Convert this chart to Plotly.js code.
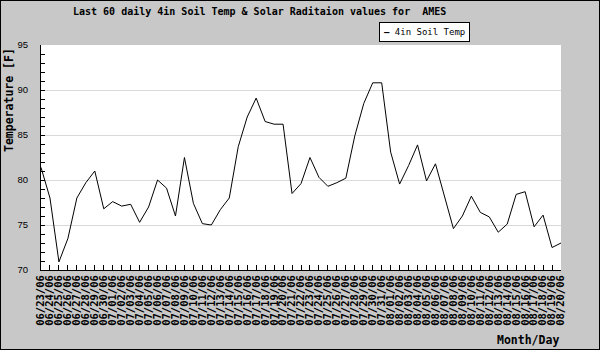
<!DOCTYPE html>
<html>
<head>
<meta charset="utf-8">
<script src="https://cdn.plot.ly/plotly-3.0.1.min.js"></script>
<style>
  html, body { margin: 0; padding: 0; background: #c8c8c8; }
  #chart { width: 598px; height: 348px; border: 1px solid #000; }
</style>
</head>
<body>
<div id="chart"></div>
<script>
const dates = [
  "06/23/06","06/24/06","06/25/06","06/26/06","06/27/06","06/28/06","06/29/06","06/30/06",
  "07/01/06","07/02/06","07/03/06","07/04/06","07/05/06","07/06/06","07/07/06","07/08/06",
  "07/09/06","07/10/06","07/11/06","07/12/06","07/13/06","07/14/06","07/15/06","07/16/06",
  "07/17/06","07/18/06","07/19/06","07/20/06","07/21/06","07/22/06","07/23/06","07/24/06",
  "07/25/06","07/26/06","07/27/06","07/28/06","07/29/06","07/30/06","07/31/06",
  "08/01/06","08/02/06","08/03/06","08/04/06","08/05/06","08/06/06","08/07/06","08/08/06",
  "08/09/06","08/10/06","08/11/06","08/12/06","08/13/06","08/14/06","08/15/06","08/16/06",
  "08/17/06","08/18/06","08/19/06","08/20/06"
];
const soilTemp = [
  81.4, 78.0, 70.9, 73.5, 78.0, 79.7, 81.0, 76.8, 77.6, 77.1,
  77.3, 75.3, 77.0, 80.0, 79.1, 76.0, 82.5, 77.4, 75.15, 75.0,
  76.7, 78.0, 83.7, 87.0, 89.1, 86.5, 86.2, 86.2, 78.5, 79.6,
  82.5, 80.3, 79.3, 79.7, 80.2, 84.9, 88.5, 90.8, 90.8, 83.1,
  79.55, 81.6, 83.9, 79.9, 81.8, 78.3, 74.6, 76.0, 78.2, 76.4,
  75.9, 74.2, 75.1, 78.4, 78.7, 74.8, 76.1, 72.5, 73.0
];
const yTicks = [70, 75, 80, 85, 90, 95];
const seriesName = "4in Soil Temp";
const titleText = "Last 60 daily 4in Soil Temp &amp; Solar Raditaion values for  AMES";

const mono = "DejaVu Sans Mono, monospace";

const trace = {
  x: dates,
  y: soilTemp,
  type: "scatter",
  mode: "lines",
  name: seriesName,
  line: { color: "#000000", width: 1 },
  hoverinfo: "x+y"
};

const layout = {
  width: 598,
  height: 348,
  margin: { l: 40, r: 38, t: 44, b: 79 },
  paper_bgcolor: "#c8c8c8",
  plot_bgcolor: "#ffffff",
  showlegend: false,
  title: {
    text: titleText,
    font: { family: mono, size: 10, weight: "bold", color: "#000" },
    x: 72 / 598, xanchor: "left", xref: "container",
    y: 1 - 10 / 348, yanchor: "middle", yref: "container"
  },
  xaxis: {
    type: "category",
    range: [0, dates.length - 1],
    tickmode: "array",
    tickvals: dates,
    ticktext: dates,
    tickangle: -90,
    ticks: "inside",
    ticklen: 5,
    tickcolor: "#000",
    tickfont: { family: mono, size: 10.5, weight: "bold", color: "#000" },
    showline: true,
    linecolor: "#000",
    linewidth: 1,
    showgrid: false,
    zeroline: false,
    fixedrange: true
  },
  yaxis: {
    range: [70, 95],
    tickmode: "array",
    tickvals: yTicks,
    ticks: "inside",
    ticklen: 4,
    tickcolor: "#000",
    ticklabelstandoff: 10,
    tickfont: { family: "Liberation Sans, sans-serif", size: 9.5, color: "#000" },
    minor: { dtick: 1, tick0: 70, ticks: "inside", ticklen: 4, tickcolor: "#000", showgrid: false },
    showgrid: true,
    gridcolor: "#d9d9d9",
    gridwidth: 1,
    showline: true,
    linecolor: "#000",
    linewidth: 1,
    zeroline: false,
    fixedrange: true
  },
  annotations: [
    {
      text: "<b>Temperature [F]</b>",
      xref: "paper", yref: "paper",
      x: (9 - 41) / 520, y: (270 - 100) / 225,
      xanchor: "center", yanchor: "middle",
      textangle: -90, showarrow: false,
      font: { family: mono, size: 11.5, color: "#000" }
    },
    {
      text: "<b>Month/Day</b>",
      xref: "paper", yref: "paper",
      x: (528 - 41) / 520, y: (270 - 340) / 225,
      xanchor: "center", yanchor: "middle",
      showarrow: false,
      font: { family: mono, size: 11.5, color: "#000" }
    },
    {
      text: "<b>—</b> " + seriesName,
      xref: "paper", yref: "paper",
      x: (424 - 41) / 520, y: (270 - 32.5) / 225,
      xanchor: "center", yanchor: "middle",
      showarrow: false,
      bgcolor: "#ffffff",
      bordercolor: "#000",
      borderwidth: 1,
      borderpad: 4,
      font: { family: mono, size: 9, color: "#000" }
    }
  ]
};

Plotly.newPlot("chart", [trace], layout, { displayModeBar: false, staticPlot: true });
</script>
</body>
</html>
